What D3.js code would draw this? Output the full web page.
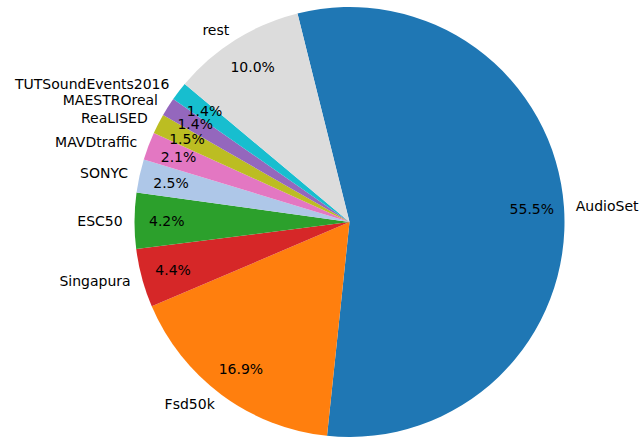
<!DOCTYPE html>
<html lang="en">
    <head>
        <title>Dataset share pie</title>
        <script src="https://cdnjs.cloudflare.com/ajax/libs/d3/7.7.0/d3.min.js"></script>
        <style>
          body { margin: 0; background: #fff; }
          text { font-family: "DejaVu Sans", sans-serif; font-size: 14px; fill: #000; }
        </style>
    </head>
    <body>
        <div id="graph"></div>
        <script>
// data, in drawing order (clockwise from the top)
const labels = ['AudioSet', 'Fsd50k', 'Singapura', 'ESC50', 'SONYC', 'MAVDtraffic', 'ReaLISED', 'MAESTROreal', 'TUTSoundEvents2016', 'rest'];
const shares = [55.5, 16.9, 4.4, 4.2, 2.5, 2.1, 1.5, 1.4, 1.4, 10.0];
const colors = ['#1f77b4', '#ff7f0e', '#d62728', '#2ca02c', '#aec7e8', '#e377c2', '#bcbd22', '#9467bd', '#17becf', '#dcdcdc'];

const w = 641;
const h = 439;
const cx = 349.5;
const cy = 222;
const r = 215;

const data = labels.map((name, i) => ({name: name, value: shares[i], color: colors[i]}));

var svg = d3.select("#graph")
  .append("svg")
    .attr("width", w)
    .attr("height", h)
  .append("g")
    .attr("transform", "translate(" + cx + "," + cy + ")");

// start a little left of 12 o'clock, go clockwise
const start = -14 * Math.PI / 180;
var pie = d3.pie()
  .sort(null)
  .value(d => d.value)
  .startAngle(start)
  .endAngle(start + 2 * Math.PI);

var arc = d3.arc().innerRadius(0).outerRadius(r);
var arcs = pie(data);

svg.selectAll("path")
  .data(arcs)
  .enter()
  .append("path")
    .attr("d", arc)
    .attr("fill", d => d.data.color);

// point at distance k*r along the middle of a slice
function at(d, k) {
  const a = (d.startAngle + d.endAngle) / 2;
  return [Math.sin(a) * r * k, -Math.cos(a) * r * k];
}

// percentages inside
svg.selectAll(".pct")
  .data(arcs)
  .enter()
  .append("text")
    .attr("class", "pct")
    .attr("x", d => at(d, 0.85)[0])
    .attr("y", d => at(d, 0.85)[1])
    .attr("text-anchor", "middle")
    .attr("dominant-baseline", "central")
    .text(d => d.data.value.toFixed(1) + "%");

// names outside
svg.selectAll(".name")
  .data(arcs)
  .enter()
  .append("text")
    .attr("class", "name")
    .attr("x", d => at(d, 1.055)[0])
    .attr("y", d => at(d, 1.055)[1])
    .attr("text-anchor", d => at(d, 1)[0] > 0 ? "start" : "end")
    .attr("dominant-baseline", "central")
    .text(d => d.data.name);
        </script>
    </body>
</html>
